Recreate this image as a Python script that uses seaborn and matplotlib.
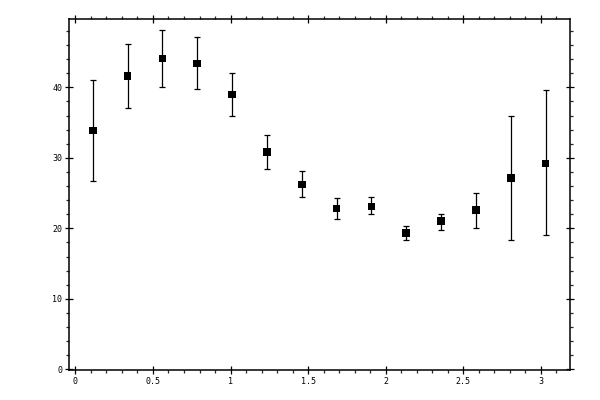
import matplotlib
matplotlib.use("Agg")
import matplotlib.pyplot as plt
import seaborn as sns
import numpy as np
import pandas as pd
from matplotlib.ticker import MultipleLocator

x_vals = [0.112, 0.337, 0.561, 0.785, 1.010, 1.234, 1.459, 1.683, 1.907, 2.132, 2.356, 2.581, 2.805, 3.030]
y_vals = [33.9, 41.6, 44.1, 43.4, 39.0, 30.8, 26.2, 22.8, 23.1, 19.3, 21.0, 22.6, 27.1, 29.2]
y_upper = [41.0, 46.1, 48.1, 47.1, 42.0, 33.2, 28.1, 24.3, 24.4, 20.3, 22.0, 25.0, 35.9, 39.6]
y_lower = [26.7, 37.0, 40.1, 39.7, 35.9, 28.4, 24.4, 21.3, 22.0, 18.3, 19.8, 20.1, 18.3, 19.0]

df = pd.DataFrame({"x": x_vals, "y": y_vals, "lo": y_lower, "hi": y_upper})

sns.set_style("ticks")
plt.rcParams["font.family"] = ["DejaVu Sans Mono", "DejaVu Sans"]

fig = plt.figure(figsize=(6, 4), dpi=100)
ax = fig.add_axes([0.1155, 0.075, 0.835, 0.87675])

yerr = np.array([df["y"] - df["lo"], df["hi"] - df["y"]])
ax.errorbar(df["x"], df["y"], yerr=yerr, fmt="none", ecolor="black",
            elinewidth=0.9, capsize=2.0, capthick=0.9, zorder=2)
sns.scatterplot(data=df, x="x", y="y", marker="s", s=30, color="black",
                edgecolor="none", ax=ax, zorder=3)

ax.set_xlim(-0.039, 3.189)
ax.set_ylim(-0.1, 49.65)
ax.xaxis.set_minor_locator(MultipleLocator(0.1))
ax.yaxis.set_minor_locator(MultipleLocator(2))
ax.set_xticks([0, 0.5, 1, 1.5, 2, 2.5, 3])
ax.set_xticklabels(["0", "0.5", "1", "1.5", "2", "2.5", "3"])
ax.set_yticks([0, 10, 20, 30, 40])
ax.set_yticklabels(["0", "10", "20", "30", "40"])

ax.tick_params(which="major", direction="inout", length=6, width=0.9,
               top=True, right=True, labelsize=6, pad=2, colors="black")
ax.tick_params(which="minor", direction="out", length=2.5, width=0.9,
               top=True, right=True)
for s in ax.spines.values():
    s.set_visible(True)
    s.set_linewidth(1.1)
    s.set_color("black")

ax.set_xlabel("")
ax.set_ylabel("")

fig.savefig("out.png", dpi=100)
